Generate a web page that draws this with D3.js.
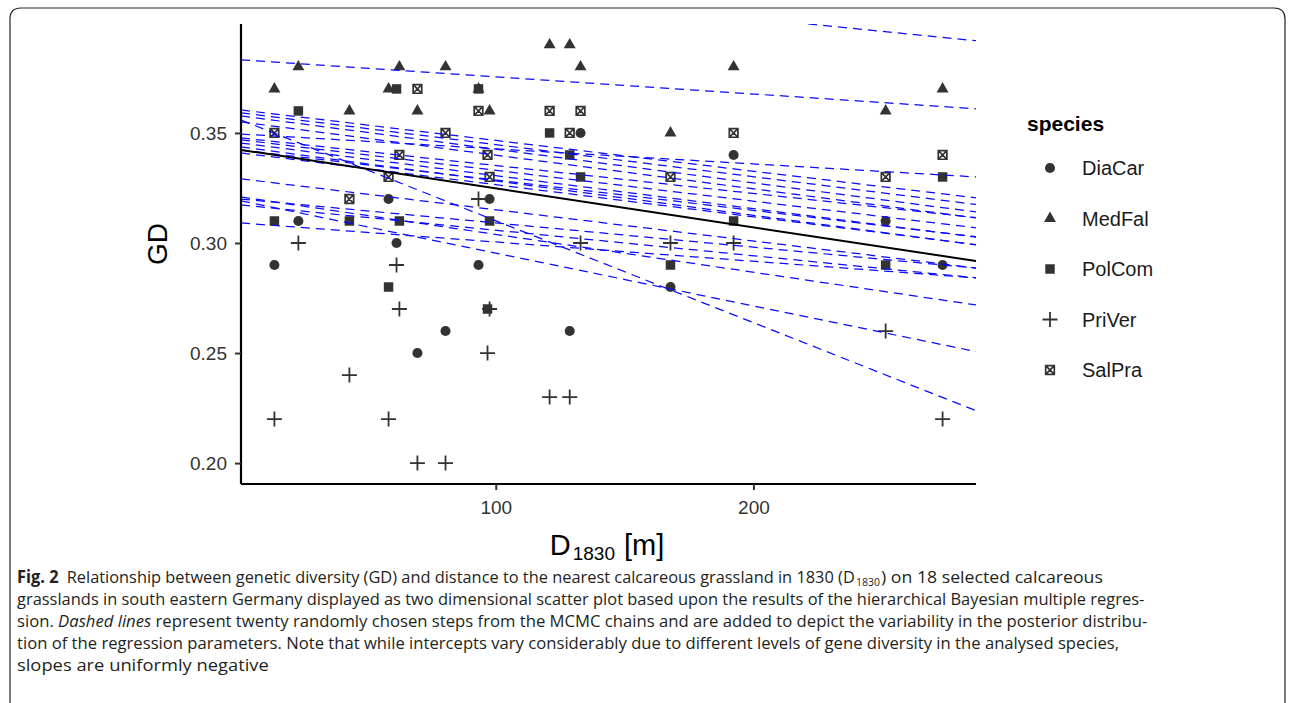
<!DOCTYPE html>
<html>
<head>
<meta charset="utf-8">
<script src="https://cdn.jsdelivr.net/npm/d3@7"></script>
<style>
    body { margin: 0; background: #fff; }
    svg { display: block; }
</style>
</head>
<body>
<div id="chart"></div>
<script>
    // Sites: distance to nearest calcareous grassland in 1830 [m]
    var siteDistance = [14.1, 23.4, 43.2, 58.4, 61.5, 62.6, 69.6, 80.5, 93.3, 96.8,
                        97.6, 120.9, 128.7, 132.9, 167.8, 192.3, 251.3, 273.4];

    // Gene diversity per species, one value per site (null = not sampled)
    var diaCar = [0.29, 0.31, null, 0.32, 0.30, null, 0.25, 0.26, 0.29, null,
                  0.32, null, 0.26, 0.35, 0.28, 0.34, 0.31, 0.29];
    var medFal = [0.37, 0.38, 0.36, 0.37, null, 0.38, 0.36, 0.38, 0.37, null,
                  0.36, 0.39, 0.39, 0.38, 0.35, 0.38, 0.36, 0.37];
    var polCom = [0.31, 0.36, 0.31, 0.28, 0.37, 0.31, null, null, 0.37, 0.27,
                  0.31, 0.35, 0.34, 0.33, 0.29, 0.31, 0.29, 0.33];
    var priVer = [0.22, 0.30, 0.24, 0.22, 0.29, 0.27, 0.20, 0.20, 0.32, 0.25,
                  0.27, 0.23, 0.23, 0.30, 0.30, 0.30, 0.26, 0.22];
    var salPra = [0.35, null, 0.32, 0.33, null, 0.34, 0.37, 0.35, 0.36, 0.34,
                  0.33, 0.36, 0.35, 0.36, 0.33, 0.35, 0.33, 0.34];

    var speciesNames = ['DiaCar', 'MedFal', 'PolCom', 'PriVer', 'SalPra'];
    var speciesValues = [diaCar, medFal, polCom, priVer, salPra];

    // Posterior mean regression line
    var meanIntercept = 0.3425;
    var meanSlope = -0.000177;

    // Twenty MCMC draws (intercept, slope)
    var drawIntercepts = [0.4254, 0.3833, 0.3496, 0.3606, 0.3593, 0.3579, 0.3564, 0.3552, 0.3479, 0.3470,
                          0.3456, 0.3438, 0.3424, 0.3411, 0.3293, 0.3211, 0.3201, 0.3194, 0.3174, 0.3092];
    var drawSlopes = [-0.000117, -0.0000780, -0.0000684, -0.000140, -0.000146, -0.000153, -0.000463, -0.000153, -0.000127, -0.000140,
                      -0.000150, -0.000156, -0.000138, -0.000146, -0.000142, -0.000172, -0.000110, -0.000240, -0.000116, -0.0000875];

    var yTicks = [0.20, 0.25, 0.30, 0.35];
    var xTicks = [100, 200];

    // Layout
    var width = 1292,
        height = 703,
        panel = { left: 241, right: 976, top: 24, bottom: 484 },
        pointColor = '#333333',
        axisFont = 'Liberation Sans, Arial, sans-serif';

    var svg = d3.select('#chart').append('svg')
        .attr('width', width)
        .attr('height', height);

    // Figure frame (rounded, open at the bottom)
    svg.append('path')
        .attr('d', 'M10,720 V19 Q10,8 21,8 H1274 Q1285,8 1285,19 V720')
        .attr('fill', 'none')
        .attr('stroke', '#222')
        .attr('stroke-width', 1.2);

    // Scales with ggplot style 5% expansion
    function expand(ext) {
        var pad = (ext[1] - ext[0]) * 0.05;
        return [ext[0] - pad, ext[1] + pad];
    }
    var allValues = [];
    speciesValues.forEach(function(arr) {
        arr.forEach(function(v) { if (v !== null) allValues.push(v); });
    });
    var xScale = d3.scaleLinear()
        .domain(expand(d3.extent(siteDistance)))
        .range([panel.left, panel.right]);
    var yScale = d3.scaleLinear()
        .domain(expand(d3.extent(allValues)))
        .range([panel.bottom, panel.top]);

    svg.append('clipPath').attr('id', 'panel-clip')
        .append('rect')
        .attr('x', panel.left).attr('y', panel.top)
        .attr('width', panel.right - panel.left)
        .attr('height', panel.bottom - panel.top);

    var plot = svg.append('g').attr('clip-path', 'url(#panel-clip)');

    // Points
    var pointData = [];
    speciesValues.forEach(function(arr, s) {
        arr.forEach(function(v, i) {
            if (v !== null) pointData.push({ species: s, d: siteDistance[i], gd: v });
        });
    });

    function drawShape(sel, s) {
        if (s === 0) {
            sel.append('path').attr('d', d3.symbol(d3.symbolCircle, 80)())
                .attr('fill', pointColor);
        } else if (s === 1) {
            sel.append('path').attr('d', d3.symbol(d3.symbolTriangle, 62)())
                .attr('fill', pointColor);
        } else if (s === 2) {
            sel.append('path').attr('d', d3.symbol(d3.symbolSquare, 90)())
                .attr('fill', pointColor);
        } else if (s === 3) {
            sel.append('path').attr('d', 'M-7.5,0H7.5M0,-7.5V7.5')
                .attr('stroke', pointColor).attr('stroke-width', 1.8).attr('fill', 'none');
        } else {
            sel.append('path').attr('d', 'M-4.3,-4.3H4.3V4.3H-4.3Z M-4.3,-4.3L4.3,4.3 M4.3,-4.3L-4.3,4.3')
                .attr('stroke', pointColor).attr('stroke-width', 1.7).attr('fill', 'none');
        }
    }

    var pointG = plot.append('g').attr('class', 'points');
    pointData.forEach(function(p) {
        var g = pointG.append('g')
            .attr('transform', 'translate(' + xScale(p.d) + ',' + yScale(p.gd) + ')');
        drawShape(g, p.species);
    });

    // Lines from intercept/slope across the full x domain
    var xDom = xScale.domain();
    function ablinePath(a, b) {
        return d3.line()
            .x(function(d) { return xScale(d); })
            .y(function(d) { return yScale(a + b * d); })(xDom);
    }

    var drawG = plot.append('g').attr('class', 'draws');
    drawIntercepts.forEach(function(a, i) {
        drawG.append('path')
            .attr('d', ablinePath(a, drawSlopes[i]))
            .attr('fill', 'none')
            .attr('stroke', '#0a0aff')
            .attr('stroke-width', 1.25)
            .attr('stroke-dasharray', '9,6');
    });

    plot.append('path')
        .attr('d', ablinePath(meanIntercept, meanSlope))
        .attr('fill', 'none')
        .attr('stroke', '#000')
        .attr('stroke-width', 2);

    // Axes
    var yAxis = d3.axisLeft(yScale).tickValues(yTicks).tickFormat(d3.format('.2f'))
        .tickSize(6).tickPadding(8);
    var xAxis = d3.axisBottom(xScale).tickValues(xTicks).tickFormat(d3.format('d'))
        .tickSize(6).tickPadding(11);

    var gy = svg.append('g').attr('transform', 'translate(' + panel.left + ',0)').call(yAxis);
    var gx = svg.append('g').attr('transform', 'translate(0,' + panel.bottom + ')').call(xAxis);

    [gx, gy].forEach(function(g) {
        g.select('.domain').attr('stroke', '#000').attr('stroke-width', 2.2);
        g.selectAll('.tick line').attr('stroke', '#333').attr('stroke-width', 2);
        g.selectAll('.tick text')
            .style('font-family', axisFont)
            .style('font-size', '19px')
            .attr('fill', '#333');
    });
    gy.select('.domain').attr('d', 'M0,' + panel.top + 'V' + panel.bottom);
    gx.select('.domain').attr('d', 'M' + panel.left + ',0H' + panel.right);

    // Axis titles
    svg.append('text')
        .attr('transform', 'translate(167,244) rotate(-90)')
        .attr('text-anchor', 'middle')
        .style('font-family', axisFont)
        .style('font-size', '28px')
        .attr('fill', '#000')
        .text('GD');

    // x title built from separate pieces so the subscript sits beside the D
    var titleParts = [
        { t: 'D', size: 29, dy: 0, gap: 2 },
        { t: '1830', size: 19, dy: 5, gap: 9 },
        { t: '[m]', size: 29, dy: 0, gap: 0 }
    ];
    var titleG = svg.append('g');
    var cursor = 0;
    titleParts.forEach(function(p) {
        var el = titleG.append('text')
            .attr('x', cursor).attr('y', 555 + p.dy)
            .style('font-family', axisFont)
            .style('font-size', p.size + 'px')
            .attr('fill', '#000')
            .text(p.t);
        cursor += el.node().getComputedTextLength() + p.gap;
    });
    titleG.attr('transform', 'translate(' + (607 - cursor / 2) + ',0)');

    // Legend
    var legend = svg.append('g').attr('transform', 'translate(1027,0)');
    legend.append('text')
        .attr('x', 0).attr('y', 131)
        .style('font-family', axisFont)
        .style('font-size', '21px')
        .style('font-weight', 'bold')
        .text('species');
    speciesNames.forEach(function(name, i) {
        var yy = 168 + i * 50.5;
        var g = legend.append('g').attr('transform', 'translate(23,' + yy + ')');
        drawShape(g, i);
        legend.append('text')
            .attr('x', 55).attr('y', yy)
            .attr('dy', '0.35em')
            .style('font-family', axisFont)
            .style('font-size', '20px')
            .attr('fill', '#1a1a1a')
            .text(name);
    });

    // Caption: each piece is squeezed horizontally to the width it has in the figure
    var captionFont = '"Liberation Sans Narrow", "Open Sans", sans-serif';
    var captionPieces = [
        { x: 17, y: 583, w: 838, size: 17, parts: [
            { t: 'Fig. 2', b: true },
            { t: '\u2002Relationship between genetic diversity (GD) and distance to the nearest calcareous grassland in 1830 (D' }] },
        { x: 856, y: 586, w: 24, size: 11, parts: [{ t: '1830' }] },
        { x: 881, y: 583, w: 222, size: 17, parts: [{ t: ') on 18 selected calcareous' }] },
        { x: 17, y: 605, w: 1128, size: 17, parts: [
            { t: 'grasslands in south eastern Germany displayed as two dimensional scatter plot based upon the results of the hierarchical Bayesian multiple regres-' }] },
        { x: 17, y: 627, w: 1131, size: 17, parts: [
            { t: 'sion.\u00a0' }, { t: 'Dashed lines', i: true },
            { t: '\u00a0represent twenty randomly chosen steps from the MCMC chains and are added to depict the variability in the posterior distribu-' }] },
        { x: 17, y: 649, w: 1103, size: 17, parts: [
            { t: 'tion of the regression parameters. Note that while intercepts vary considerably due to different levels of gene diversity in the analysed species,' }] },
        { x: 17, y: 671, w: 252, size: 17, parts: [
            { t: 'slopes are uniformly negative' }] }
    ];
    captionPieces.forEach(function(piece) {
        var t = svg.append('text')
            .attr('x', 0).attr('y', 0)
            .style('font-family', captionFont)
            .style('font-size', piece.size + 'px')
            .attr('fill', '#231f20');
        piece.parts.forEach(function(p) {
            var ts = t.append('tspan').text(p.t);
            if (p.b) ts.style('font-weight', 'bold');
            if (p.i) ts.style('font-style', 'italic');
        });
        var natural = t.node().getComputedTextLength();
        var sx = piece.w / natural;
        t.attr('transform', 'translate(' + piece.x + ',' + piece.y + ') scale(' + sx + ',1)');
    });
</script>
</body>
</html>
